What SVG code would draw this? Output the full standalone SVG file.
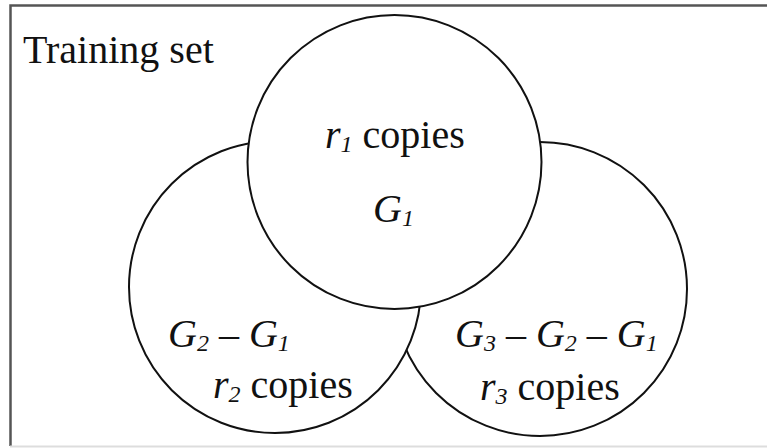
<svg xmlns="http://www.w3.org/2000/svg" width="767" height="448" viewBox="0 0 767 448">
<style>
.frame{fill:none;stroke:#555;stroke-width:2.5}
.circ{fill:#fff;stroke:#111;stroke-width:2}
text{font-size:40px;fill:#111}
.it{font-style:italic}
.sub{font-style:italic;font-size:24px}
</style>
<rect width="767" height="448" fill="#fff"/>
<g font-family="'Liberation Serif', Tinos, 'Times New Roman', 'Nimbus Roman', 'DejaVu Serif', serif">
<g id="frame">
<path class="frame" d="M10.5,446 V5.5 H767"/>
<path d="M10,446.5 H767" stroke="#ddd" stroke-width="2" fill="none"/>
<text x="23" y="63">Training set</text>
</g>
<g id="connectors"></g>
<g id="g3">
<circle class="circ" cx="540" cy="289" r="147"/>
<text x="455" y="347"><tspan class="it">G</tspan><tspan class="sub" dy="4">3</tspan><tspan dy="-4"> – </tspan><tspan class="it">G</tspan><tspan class="sub" dy="4">2</tspan><tspan dy="-4"> – </tspan><tspan class="it">G</tspan><tspan class="sub" dy="4">1</tspan></text>
<text x="480" y="400"><tspan class="it">r</tspan><tspan class="sub" dy="4">3</tspan><tspan dy="-4"> copies</tspan></text>
</g>
<g id="g2">
<circle class="circ" cx="275" cy="287" r="146"/>
<text x="168" y="347"><tspan class="it">G</tspan><tspan class="sub" dy="4">2</tspan><tspan dy="-4"> – </tspan><tspan class="it">G</tspan><tspan class="sub" dy="4">1</tspan></text>
<text x="213" y="398"><tspan class="it">r</tspan><tspan class="sub" dy="4">2</tspan><tspan dy="-4"> copies</tspan></text>
</g>
<g id="g1">
<circle class="circ" cx="394.5" cy="162" r="147"/>
<text x="325" y="148"><tspan class="it">r</tspan><tspan class="sub" dy="4">1</tspan><tspan dy="-4"> copies</tspan></text>
<text x="373" y="222"><tspan class="it">G</tspan><tspan class="sub" dy="4">1</tspan></text>
</g>
</g>
</svg>
